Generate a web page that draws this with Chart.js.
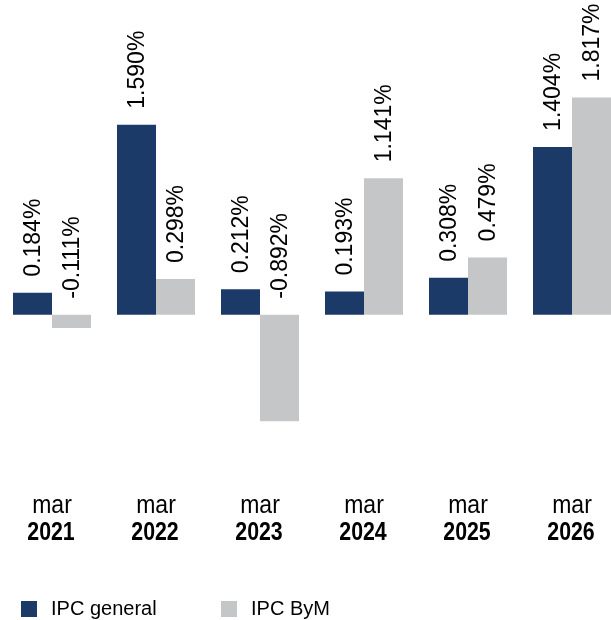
<!DOCTYPE html>
<html>
<head>
<meta charset="utf-8">
<script src="https://cdn.jsdelivr.net/npm/chart.js@4"></script>
<style>
    html, body { margin: 0; padding: 0; background: #fff; overflow: hidden; }
    #ipcChart { display: block; }
</style>
</head>
<body>
<canvas id="ipcChart" width="624" height="620"></canvas>
<script>
const months = ['mar', 'mar', 'mar', 'mar', 'mar', 'mar'];
const years = ['2021', '2022', '2023', '2024', '2025', '2026'];
const ipcGeneral = [0.184, 1.590, 0.212, 0.193, 0.308, 1.404];
const ipcByM = [-0.111, 0.298, -0.892, 1.141, 0.479, 1.817];
const seriesNames = ['IPC general', 'IPC ByM'];
const seriesColors = ['#1b3a67', '#c5c6c8'];

document.addEventListener('DOMContentLoaded', function() {
    const FONT = '"Liberation Sans", Arial, sans-serif';

    // etiquetas verticales encima de cada barra
    const valueLabels = {
        id: 'valueLabels',
        afterDatasetsDraw(chart) {
            const ctx = chart.ctx;
            const zeroY = chart.scales.y.getPixelForValue(0);
            ctx.save();
            ctx.fillStyle = '#000';
            ctx.font = '23px ' + FONT;
            ctx.textAlign = 'left';
            ctx.textBaseline = 'middle';
            chart.data.datasets.forEach(function(ds, i) {
                chart.getDatasetMeta(i).data.forEach(function(bar, j) {
                    const v = ds.data[j];
                    const top = v >= 0 ? bar.y : zeroY;
                    ctx.save();
                    ctx.translate(bar.x + 1, top - 16);
                    ctx.rotate(-Math.PI / 2);
                    ctx.fillText(v.toFixed(3) + '%', 0, 0);
                    ctx.restore();
                });
            });
            ctx.restore();
        }
    };

    // eje x en dos líneas + leyenda abajo
    const bottomText = {
        id: 'bottomText',
        afterDraw(chart) {
            const ctx = chart.ctx;
            const x = chart.scales.x;
            ctx.save();
            ctx.fillStyle = '#000';
            ctx.textAlign = 'center';
            ctx.textBaseline = 'middle';
            years.forEach(function(year, i) {
                const cx = x.getPixelForValue(i);
                ctx.save();
                ctx.translate(cx, 506);
                ctx.scale(0.92, 1);
                ctx.font = '25px ' + FONT;
                ctx.fillText(months[i], 0, 0);
                ctx.restore();
                ctx.save();
                ctx.translate(cx - 1, 533);
                ctx.scale(0.82, 1);
                ctx.font = 'bold 26px ' + FONT;
                ctx.fillText(year, 0, 0);
                ctx.restore();
            });

            ctx.textAlign = 'left';
            ctx.font = '20px ' + FONT;
            const legendX = [21, 221];
            seriesNames.forEach(function(name, i) {
                ctx.fillStyle = seriesColors[i];
                ctx.fillRect(legendX[i], 601, 16, 16);
                ctx.fillStyle = '#000';
                ctx.fillText(name, legendX[i] + 30, 609);
            });
            ctx.restore();
        }
    };

    const ctx = document.getElementById('ipcChart').getContext('2d');
    new Chart(ctx, {
        type: 'bar',
        data: {
            labels: years,
            datasets: [
                {
                    label: seriesNames[0],
                    data: ipcGeneral,
                    backgroundColor: seriesColors[0],
                    borderWidth: 0
                },
                {
                    label: seriesNames[1],
                    data: ipcByM,
                    backgroundColor: seriesColors[1],
                    borderWidth: 0
                }
            ]
        },
        options: {
            responsive: false,
            animation: false,
            devicePixelRatio: 1,
            categoryPercentage: 0.75,
            barPercentage: 1,
            layout: {
                padding: { top: 4, bottom: 162, left: 0, right: 0 }
            },
            scales: {
                x: { display: false },
                y: { display: false, min: -1.2, max: 2.6 }
            },
            plugins: {
                legend: { display: false },
                tooltip: { enabled: false }
            }
        },
        plugins: [valueLabels, bottomText]
    });
});
</script>
</body>
</html>
